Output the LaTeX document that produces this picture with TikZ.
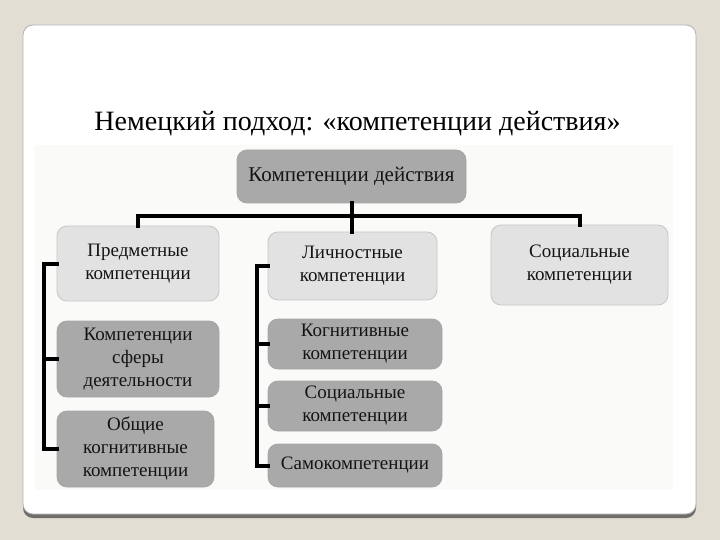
\documentclass[tikz,border=0pt]{standalone}
\usepackage{fontspec}
\setmainfont{Liberation Serif}
\definecolor{bgbeige}{HTML}{E3DED4}
\definecolor{slideedge}{HTML}{6E6E68}
\definecolor{imgbg}{HTML}{FAFAF8}
\definecolor{darkbox}{HTML}{A9A9A9}
\definecolor{lightbox}{HTML}{E2E2E2}
\begin{document}
\begin{tikzpicture}[x=1pt,y=-1pt,
  box/.style={line width=0.8pt, rounded corners=10pt, align=center,
    font=\fontsize{19}{23}\selectfont, text=black!92, inner sep=0pt},
  darkbx/.style={box, draw=gray!70, fill=darkbox},
  lightbx/.style={box, draw=gray!45, fill=lightbox},
  conn/.style={line width=4pt, black, line cap=rect}]
\useasboundingbox (0,0) rectangle (720,540);
\fill[bgbeige] (0,0) rectangle (720,540);
% slide
\fill[slideedge, rounded corners=10pt] (23,28) rectangle (696,518);
\filldraw[fill=white, draw=gray!60, line width=0.8pt, rounded corners=10pt] (23,25) rectangle (696,514);
\fill[imgbg] (35,145) rectangle (673,490);
% title
\node[font=\fontsize{28}{32}\selectfont, anchor=base] (title) at (357.5,131) {Немецкий подход: «компетенции действия»};
% boxes
\node[darkbx, minimum width=229pt, minimum height=53pt, font=\fontsize{21}{25}\selectfont] (top) at (351.5,176.5) {Компетенции действия};
\node[lightbx, minimum width=162pt, minimum height=75pt] (pred) at (138,263.5) {Предметные\\компетенции};
\node[lightbx, minimum width=169pt, minimum height=68pt] (lich) at (352.5,266) {Личностные\\компетенции};
\node[lightbx, minimum width=177pt, minimum height=80pt] (soc) at (579.5,265) {Социальные\\компетенции};
\node[darkbx, minimum width=162pt, minimum height=76pt] (sfer) at (138,359) {Компетенции\\сферы\\деятельности};
\node[darkbx, minimum width=157pt, minimum height=76pt] (obsh) at (135.5,449) {Общие\\когнитивные\\компетенции};
\node[darkbx, minimum width=174pt, minimum height=50pt] (kogn) at (355,344) {Когнитивные\\компетенции};
\node[darkbx, minimum width=174pt, minimum height=50pt] (soc2) at (355,406) {Социальные\\компетенции};
\node[darkbx, minimum width=174pt, minimum height=43pt] (samo) at (355,465.5) {Самокомпетенции};
% connectors
\coordinate (bar) at (351.5,216);
\coordinate (lb) at (44,0);
\coordinate (rb) at (257,0);
\draw[conn] (top.south) -- (top.south |- lich.north);
\draw[conn] (pred.north) |- (bar) -| (soc.north);
\draw[conn] (pred.west) -- (pred.west -| lb) -- (obsh.west -| lb) -- (obsh.west);
\draw[conn] (sfer.west -| lb) -- (sfer.west);
\draw[conn] (lich.west) -- (lich.west -| rb) -- (samo.west -| rb) -- (samo.west);
\draw[conn] (kogn.west -| rb) -- (kogn.west);
\draw[conn] (soc2.west -| rb) -- (soc2.west);
\end{tikzpicture}
\end{document}
